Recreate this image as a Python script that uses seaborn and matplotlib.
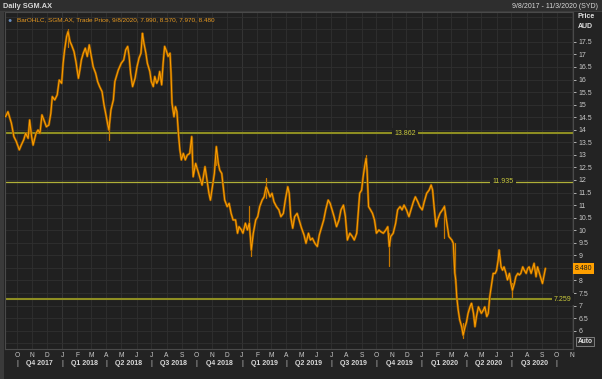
import numpy as np
import pandas as pd
import matplotlib
matplotlib.use("Agg")
import matplotlib.pyplot as plt
import matplotlib.transforms as mtransforms
import seaborn as sns

# price samples (days after 8 Sep 2017, close in AUD)
days = [
    0, 5, 12, 17, 22, 28, 32, 37, 41, 46, 49, 53, 56, 62, 66, 70, 74, 78, 83, 88,
    92, 95, 100, 105, 109, 114, 117, 120, 124, 127, 131, 134, 139, 143, 148, 151, 154, 158, 162, 166,
    170, 173, 178, 183, 187, 191, 196, 200, 204, 207, 210, 214, 219, 222, 225, 229, 235, 240, 244, 248,
    251, 254, 258, 263, 267, 271, 275, 278, 281, 285, 288, 293, 296, 300, 303, 307, 310, 313, 317, 320,
    323, 327, 330, 334, 336, 338, 342, 345, 348, 351, 354, 357, 361, 365, 369, 374, 378, 381, 386, 390,
    394, 399, 405, 408, 413, 416, 420, 424, 428, 432, 435, 439, 442, 445, 450, 454, 458, 462, 467, 471,
    474, 479, 482, 487, 491, 495, 499, 503, 508, 512, 516, 521, 525, 529, 532, 537, 541, 545, 550, 555,
    559, 564, 568, 573, 576, 579, 583, 587, 592, 596, 601, 606, 610, 615, 619, 623, 628, 633, 637, 642,
    646, 650, 655, 659, 663, 667, 672, 677, 681, 686, 690, 694, 699, 704, 708, 713, 716, 719, 723, 726,
    729, 732, 734, 737, 741, 745, 749, 753, 758, 762, 767, 772, 776, 779, 782, 787, 792, 796, 801, 805,
    809, 814, 819, 823, 828, 832, 837, 841, 846, 850, 855, 860, 864, 867, 870, 874, 877, 882, 887, 891,
    895, 900, 906, 909, 912, 914, 916, 919, 922, 926, 929, 933, 936, 939, 943, 946, 950, 953, 956, 960,
    963, 966, 970, 973, 977, 980, 983, 987, 990, 994, 997, 1000, 1002, 1006, 1009, 1012, 1016, 1019, 1023, 1026,
    1029, 1033, 1036, 1040, 1043, 1046, 1050, 1053, 1057, 1060, 1063, 1067, 1070, 1073, 1077, 1080, 1084, 1087, 1090, 1094,
    1096,
]
close = [
    14.52, 14.72, 14.26, 13.73, 13.53, 13.20, 13.39, 13.60, 13.86, 13.66, 14.39, 13.73, 13.39, 13.86, 13.99, 13.86, 14.59, 14.39, 14.12, 14.19,
    14.65, 15.32, 15.19, 15.39, 15.98, 15.85, 16.65, 17.18, 17.71, 17.91, 17.51, 17.38, 17.12, 16.71, 16.05, 16.38, 16.78, 17.05, 17.25, 16.92,
    17.38, 17.05, 16.51, 16.25, 15.92, 15.72, 15.52, 14.99, 14.59, 14.26, 13.99, 14.79, 15.19, 15.92, 16.12, 16.38, 16.65, 16.78, 17.18, 17.32,
    16.92, 16.25, 15.72, 16.05, 16.51, 16.85, 17.05, 17.84, 17.45, 17.05, 16.65, 16.32, 15.92, 15.72, 16.12, 15.85, 15.98, 16.32, 15.79, 16.65,
    17.32, 17.12, 16.92, 17.05, 16.25, 15.06, 14.52, 14.92, 14.72, 13.86, 13.20, 12.80, 13.06, 12.80, 12.99, 13.06, 13.73, 12.13, 12.66, 12.39,
    12.13, 11.80, 12.53, 12.13, 11.47, 11.20, 11.73, 12.26, 13.33, 12.66, 12.39, 12.26, 11.73, 11.20, 10.94, 11.07, 10.67, 10.41, 10.41, 9.88,
    10.14, 10.01, 9.88, 10.28, 10.01, 10.28, 9.21, 9.88, 10.41, 10.54, 10.94, 11.20, 11.33, 11.73, 11.60, 11.33, 11.47, 11.13, 10.94, 10.81,
    10.54, 10.67, 11.20, 11.73, 11.47, 10.54, 10.08, 10.54, 10.67, 10.41, 10.08, 9.81, 9.48, 9.88, 9.61, 9.68, 9.48, 9.35, 9.81, 10.14,
    10.41, 10.81, 11.20, 11.07, 10.81, 10.54, 10.14, 10.41, 10.81, 11.00, 10.54, 9.61, 9.88, 9.75, 9.61, 9.88, 10.67, 11.47, 11.60, 12.13,
    12.53, 12.86, 12.39, 10.94, 10.81, 10.67, 10.41, 9.88, 10.01, 9.94, 9.88, 10.01, 10.14, 9.35, 9.75, 9.88, 10.28, 10.81, 10.94, 10.81,
    11.00, 10.81, 10.54, 10.81, 11.13, 11.33, 11.13, 10.94, 10.81, 11.13, 11.47, 11.60, 11.80, 11.60, 10.94, 10.14, 10.41, 10.67, 10.81, 10.94,
    10.41, 9.75, 9.61, 9.48, 8.30, 8.02, 7.35, 6.82, 6.43, 6.16, 5.82, 6.16, 6.36, 6.69, 6.95, 7.09, 6.69, 6.16, 6.56, 6.95,
    6.82, 6.69, 6.82, 6.95, 6.56, 6.69, 7.35, 7.88, 8.28, 8.28, 8.41, 8.81, 9.21, 8.54, 8.41, 8.54, 8.28, 8.02, 8.28, 7.88,
    7.61, 7.88, 8.15, 8.28, 8.22, 8.28, 8.54, 8.41, 8.28, 8.48, 8.54, 8.28, 8.48, 8.68, 8.15, 8.54, 8.28, 8.08, 7.88, 8.28,
    8.48,
]

# single-day spikes visible as long bars
spike_days = [127, 210, 378, 428, 495, 499, 529, 732, 779, 891, 912, 929, 1029]
spike_low = [17.3, 13.6, 12.9, 12.6, 10.0, 8.96, 11.3, 12.3, 8.56, 9.7, 7.9, 5.7, 7.35]
spike_high = [18.0, 14.2, 13.73, 13.33, 10.97, 9.6, 12.07, 12.99, 9.9, 11.0, 9.5, 6.3, 7.9]

# horizontal reference levels
levels = [13.862, 11.935, 7.259]
level_labels = ["13.862", "11.935", "7.259"]
last_price = 8.480

start = pd.Timestamp("2017-09-08")
df = pd.DataFrame({"date": start + pd.to_timedelta(days, unit="D"), "close": close})
spikes = pd.DataFrame({
    "date": start + pd.to_timedelta(spike_days, unit="D"),
    "low": spike_low,
    "high": spike_high,
})

sns.set_style("dark")
plt.rcParams["font.family"] = ["Liberation Sans", "DejaVu Sans"]

bg = "#202020"
grid_c = "#303030"
txt = "#c8c8c8"

fig = plt.figure(figsize=(6.02, 3.79), dpi=100, facecolor="#232323")
ax = fig.add_axes([5 / 602, 1 - 349 / 379, 568 / 602, 337 / 379])
ax.set_facecolor(bg)

# header bar
fig.patches.append(plt.Rectangle((0, 1 - 11 / 379), 1, 11 / 379, transform=fig.transFigure,
                                 facecolor="#2e2e2e", edgecolor="none", zorder=0))
fig.patches.append(plt.Rectangle((0, 1 - 12 / 379), 1, 1 / 379, transform=fig.transFigure,
                                 facecolor="#3c3c3c", edgecolor="none", zorder=0))
fig.patches.append(plt.Rectangle((0, 0), 4 / 602, 1 - 12 / 379, transform=fig.transFigure,
                                 facecolor="#3a3a3a", edgecolor="none", zorder=0))
fig.text(3 / 602, 1 - 6 / 379, "Daily SGM.AX", color="#d8d8d8", fontsize=5.3,
         fontweight="bold", va="center", ha="left")
fig.text(598 / 602, 1 - 6 / 379, "9/8/2017 - 11/3/2020 (SYD)", color="#d8d8d8",
         fontsize=5.0, va="center", ha="right")
fig.text(578 / 602, 1 - 17 / 379, "Price", color="#e0e0e0", fontsize=5.0,
         fontweight="bold", va="center", ha="left")
fig.text(578 / 602, 1 - 26 / 379, "AUD", color="#e0e0e0", fontsize=5.0,
         fontweight="bold", va="center", ha="left")

# grid
month_starts = pd.date_range("2017-10-01", "2020-11-01", freq="MS")
for m in month_starts:
    ax.axvline(m, color="#383838" if m.month == 1 else grid_c, lw=0.6, zorder=0)
for yv in np.arange(5.5, 18.75, 0.5):
    ax.axhline(yv, color=grid_c, lw=0.6, zorder=0)

# reference levels
blend = mtransforms.blended_transform_factory(ax.transAxes, ax.transData)
ax.axhline(levels[0], color="#8e8e22", lw=1.5, zorder=2)
ax.axhline(levels[1], color="#b0b038", lw=0.9, zorder=2)
ax.plot([0, 0.965], [levels[2], levels[2]], transform=blend, color="#8e8e22", lw=1.5, zorder=2)
label_x = [0.704, 0.877, 0.998]
label_ha = ["center", "center", "right"]
for lv, lab, lx, ha in zip(levels, level_labels, label_x, label_ha):
    ax.text(lx, lv, lab, transform=blend, color="#c8c83c", fontsize=5.0, ha=ha, va="center",
            zorder=4, bbox=dict(facecolor=bg, edgecolor="none", pad=1.5))

# price series
for s in spikes.itertuples():
    ax.plot([s.date, s.date], [s.low, s.high], color="#c87800", lw=0.9, zorder=3)
sns.lineplot(data=df, x="date", y="close", ax=ax, color="#9a5c00", lw=1.7,
             estimator=None, zorder=3)
sns.lineplot(data=df, x="date", y="close", ax=ax, color="#ffa000", lw=0.7,
             estimator=None, zorder=3)

ax.set_xlim(pd.Timestamp("2017-09-07"), pd.Timestamp("2020-11-03"))
ax.set_ylim(5.27, 18.69)
ax.set_xlabel("")
ax.set_ylabel("")
for sp in ax.spines.values():
    sp.set_color("#4a4a4a")
    sp.set_linewidth(0.8)

# right price axis (8.5 sits under the last price tag)
yt = np.arange(6, 18, 0.5)
ax.yaxis.tick_right()
ax.set_yticks(yt)
ax.set_yticklabels(["" if v == 8.5 else f"{v:g}" for v in yt])
ax.tick_params(axis="y", colors=txt, labelsize=5.0, length=2.5, width=0.6, pad=1.5)

# month letters and quarter labels
ax.set_xticks(month_starts)
ax.set_xticklabels([m.strftime("%b")[0] for m in month_starts])
ax.tick_params(axis="x", colors=txt, labelsize=4.8, length=0, pad=2.5)

btm = mtransforms.blended_transform_factory(ax.transData, ax.transAxes)
quarter_starts = pd.date_range("2017-10-01", "2020-10-01", freq="QS")
for q in quarter_starts:
    ax.text(q, -0.042, "|", transform=btm, color=txt, fontsize=5.5, ha="center",
            va="center", clip_on=False)
for q in quarter_starts[:-1]:
    mid = q + (q + pd.offsets.QuarterBegin(startingMonth=1) - q) / 2
    ax.text(mid, -0.042, f"Q{q.quarter} {q.year}", transform=btm, color="#d8d8d8",
            fontsize=5.0, fontweight="bold", ha="center", va="center", clip_on=False)

# legend line
ax.text(0.004, 0.985, "\u25cf", transform=ax.transAxes, color="#6a8fc0", fontsize=5,
        ha="left", va="top")
ax.text(0.021, 0.985, "BarOHLC, SGM.AX, Trade Price, 9/8/2020, 7.990, 8.570, 7.970, 8.480",
        transform=ax.transAxes, color="#e89a20", fontsize=4.6, ha="left", va="top")

# last price tag and Auto button
ax.text(1.003, last_price, "8.480", transform=blend, color="#1a1a1a", fontsize=5.0,
        ha="left", va="center", clip_on=False, zorder=6,
        bbox=dict(facecolor="#ffa000", edgecolor="none", pad=1.2))
ax.text(1.008, 0.012, "Auto", transform=ax.transAxes, color="#e0e0e0", fontsize=4.8,
        fontweight="bold", ha="left", va="bottom", clip_on=False,
        bbox=dict(facecolor="#2a2a2a", edgecolor="#8a8a8a", pad=0.8, lw=0.6))

fig.savefig("out.png", dpi=100, facecolor=fig.get_facecolor())
